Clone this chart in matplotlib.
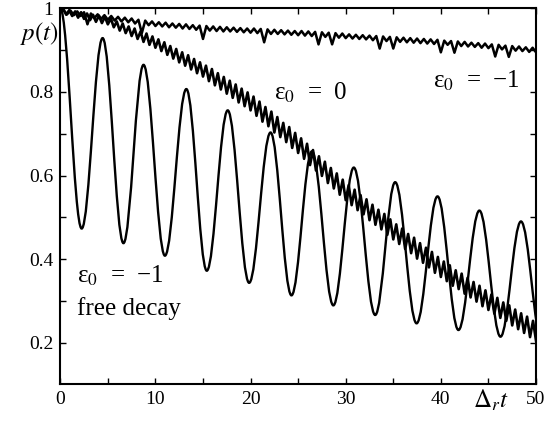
import numpy as np
import matplotlib
matplotlib.use("Agg")
import matplotlib.pyplot as plt
from matplotlib.path import Path
from matplotlib.patches import PathPatch

# fuentes tipo Times
plt.rcParams['font.family'] = 'serif'
plt.rcParams['font.serif'] = ['Liberation Serif', 'DejaVu Serif']
plt.rcParams['mathtext.fontset'] = 'stix'

# curva eps0 = -1, free decay: maximos y minimos
t_free = [0, 2.25, 4.45, 6.64, 8.75, 11.0, 13.25, 15.4, 17.6, 19.85, 22.1, 24.3,
          26.45, 28.7, 30.85, 33.1, 35.2, 37.45, 39.65, 41.85, 44.05, 46.27,
          48.42, 50.65]
p_free = [1.0, 0.473, 0.929, 0.438, 0.865, 0.408, 0.807, 0.372, 0.756, 0.343,
          0.703, 0.313, 0.658, 0.289, 0.619, 0.266, 0.584, 0.246, 0.55, 0.23,
          0.516, 0.214, 0.49, 0.2]

# curva eps0 = 0 (oscilacion rapida), crestas y valles
p_zero = [1.000, 0.998, 0.985, 0.996, 0.982, 0.993, 0.978, 0.991, 0.975, 0.988,
          0.972, 0.985, 0.968, 0.983, 0.965, 0.980, 0.962,
          0.976, 0.955, 0.969, 0.947, 0.964, 0.941, 0.957, 0.934, 0.952, 0.927,
          0.945, 0.920, 0.940, 0.913, 0.933, 0.906,
          0.926, 0.898, 0.919, 0.889, 0.910, 0.880, 0.903, 0.871, 0.895, 0.863,
          0.888, 0.854, 0.879, 0.845, 0.871, 0.837,
          0.863, 0.826, 0.855, 0.816, 0.845, 0.806, 0.836, 0.796, 0.827, 0.786,
          0.818, 0.775, 0.808, 0.766, 0.799, 0.756,
          0.789, 0.743, 0.777, 0.729, 0.764, 0.718, 0.753, 0.703, 0.740, 0.692,
          0.726, 0.680, 0.716, 0.666, 0.702, 0.654,
          0.689, 0.640, 0.676, 0.625, 0.661, 0.612, 0.646, 0.599, 0.633, 0.582,
          0.618, 0.569, 0.605, 0.554, 0.590, 0.541,
          0.577, 0.529, 0.566, 0.517, 0.553, 0.507, 0.543, 0.493, 0.530, 0.482,
          0.518, 0.471, 0.508, 0.458, 0.495, 0.447,
          0.483, 0.436, 0.473, 0.424, 0.460, 0.414, 0.451, 0.401, 0.438, 0.391,
          0.427, 0.380, 0.417, 0.367, 0.405, 0.357,
          0.394, 0.347, 0.385, 0.336, 0.373, 0.328, 0.365, 0.317, 0.355, 0.308,
          0.345, 0.298, 0.336, 0.287, 0.325, 0.278,
          0.315, 0.269, 0.307, 0.259, 0.296, 0.252, 0.289, 0.241, 0.279, 0.232,
          0.270, 0.223, 0.262, 0.213, 0.252, 0.205]

# curva eps0 = -1 de arriba (casi no decae)
p_up = [1.000, 0.996, 0.986, 0.995, 0.984, 0.993, 0.982, 0.991, 0.962, 0.988,
        0.977, 0.986, 0.975, 0.984, 0.973,
        0.982, 0.971, 0.980, 0.969, 0.978, 0.967, 0.976, 0.964, 0.973, 0.941,
        0.971, 0.960, 0.969, 0.958,
        0.967, 0.957, 0.966, 0.955, 0.964, 0.954, 0.963, 0.952, 0.962, 0.951,
        0.960, 0.949, 0.959, 0.927,
        0.958, 0.947, 0.957, 0.946, 0.956, 0.945, 0.955, 0.945, 0.954, 0.944,
        0.953, 0.943, 0.952, 0.942,
        0.952, 0.941, 0.951, 0.919, 0.950, 0.939, 0.949, 0.939, 0.948, 0.938,
        0.947, 0.937, 0.946, 0.936,
        0.946, 0.935, 0.945, 0.934, 0.944, 0.914, 0.943, 0.932, 0.942, 0.914,
        0.941, 0.930, 0.940, 0.929,
        0.938, 0.928, 0.937, 0.927, 0.936, 0.926, 0.935, 0.924, 0.934, 0.904,
        0.933, 0.922, 0.932, 0.904,
        0.931, 0.920, 0.930, 0.919, 0.929, 0.918, 0.928, 0.917, 0.927, 0.916,
        0.926, 0.915, 0.925, 0.895,
        0.923, 0.913, 0.922, 0.894, 0.921, 0.910, 0.920, 0.909, 0.918, 0.908,
        0.917, 0.906, 0.916, 0.905,
        0.914, 0.885, 0.913, 0.902, 0.911, 0.884, 0.910, 0.899, 0.909, 0.898,
        0.907, 0.896, 0.906, 0.895]

x_ticks = [0, 10, 20, 30, 40, 50]
y_ticks = [0.2, 0.4, 0.6, 0.8, 1.0]
y_labels = ["0.2", "0.4", "0.6", "0.8", "1"]

# tiempos de muestreo de las curvas rapidas
t_zero = np.linspace(0, 50, len(p_zero))
t_up = np.linspace(0, 50, len(p_up))

fig = plt.figure(figsize=(5.54, 4.26), dpi=100)
ax = fig.add_axes([0.1088, 0.0979, 0.8587, 0.8822])

ax.plot(t_up, p_up, color='black', lw=1.8)
ax.plot(t_zero, p_zero, color='black', lw=1.9)

# free decay: curvas de bezier entre extremos (tangente horizontal)
verts = [(t_free[0], p_free[0])]
codes = [Path.MOVETO]
k = 0.364
for i in range(1, len(t_free)):
    t0, p0 = t_free[i - 1], p_free[i - 1]
    t1, p1 = t_free[i], p_free[i]
    d = (t1 - t0) * k
    verts += [(t0 + d, p0), (t1 - d, p1), (t1, p1)]
    codes += [Path.CURVE4] * 3
ax.add_patch(PathPatch(Path(verts, codes), fill=False, ec='black', lw=1.7))

ax.set_xlim(0, 50)
ax.set_ylim(0.1, 1.0)

# ejes y marcas
ax.set_xticks(x_ticks)
ax.set_xticks([5, 15, 25, 35, 45], minor=True)
ax.set_yticks(y_ticks)
ax.set_yticklabels(y_labels)
ax.set_yticks([0.3, 0.5, 0.7, 0.9], minor=True)
ax.tick_params(which='both', direction='in', top=True, right=True,
               length=4, width=1, labelsize=14, pad=5)
for s in ax.spines.values():
    s.set_linewidth(1.5)

# textos
ax.text(-0.085, 0.915, "$p(t)$", transform=ax.transAxes, fontsize=18)
ax.text(22.5, 0.781, "ε$_0$  =  0", fontsize=18)
ax.text(39.2, 0.81, "ε$_0$  =  −1", fontsize=18)
ax.text(1.8, 0.344, "ε$_0$  =  −1", fontsize=18)
ax.text(1.8, 0.267, "free decay", fontsize=18)
ax.text(43.4, 0.045, r"$\Delta_r t$", fontsize=18, clip_on=False)

fig.savefig("out.png", dpi=100)
